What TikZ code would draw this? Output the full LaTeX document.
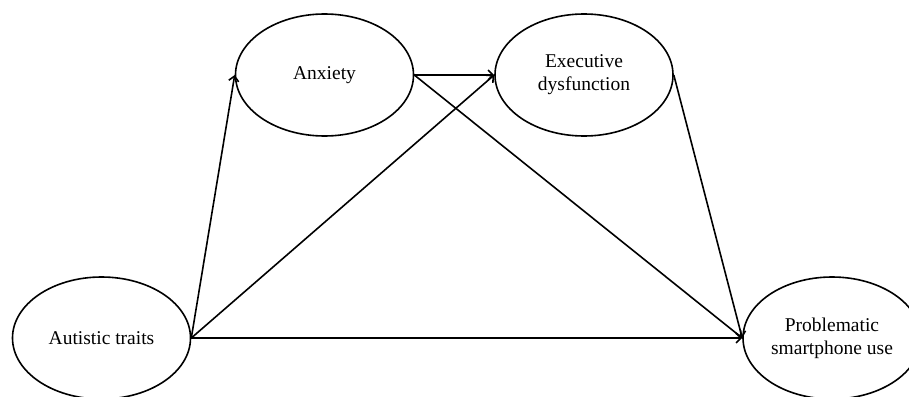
\documentclass[tikz,border=0pt]{standalone}
\usepackage{fontspec}
\setmainfont{Liberation Serif}
\usetikzlibrary{shapes.geometric,arrows.meta}
\begin{document}
\begin{tikzpicture}[x=1pt,y=-1pt,
  var/.style={draw, ellipse, line width=1.6pt, inner sep=0pt,
    minimum width=178pt, minimum height=122pt, align=center,
    font=\fontsize{19.5}{23}\selectfont},
  path/.style={line width=1.6pt, -{Straight Barb[length=5pt,width=10pt,line width=1.6pt]}}]
\useasboundingbox (0,0) rectangle (909,396);
\node[var] (aut) at (101.5,338) {Autistic traits};
\node[var] (anx) at (324.5,75) {Anxiety};
\node[var] (exe) at (584,75) {Executive\\dysfunction};
\node[var] (psu) at (832,338) {Problematic\\smartphone use};
\draw[path] (aut.east) -- (anx.west);
\draw[path] (aut.east) -- (exe.west);
\draw[path] (aut.east) -- (psu.west);
\draw[path] (anx.east) -- (exe.west);
\draw[path] (anx.east) -- (psu.west);
\draw[path] (exe.east) -- (psu.west);
\end{tikzpicture}
\end{document}
